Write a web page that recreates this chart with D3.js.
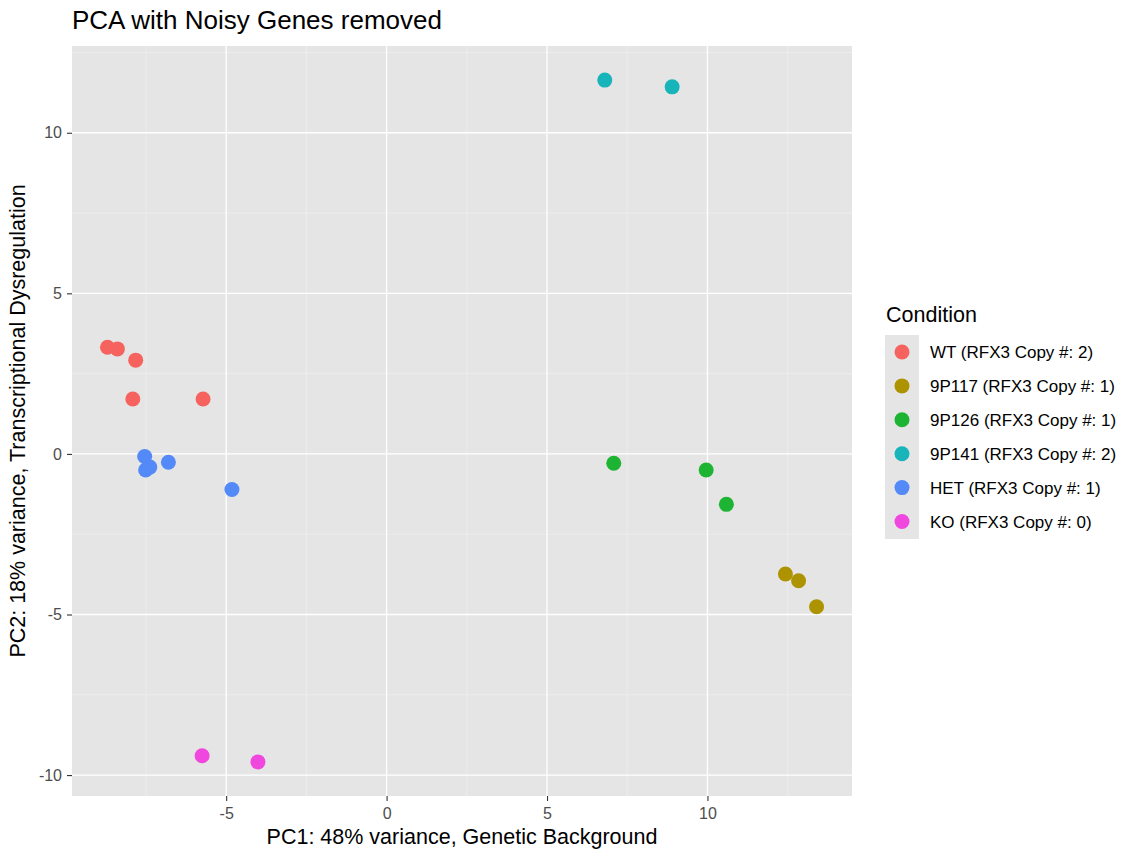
<!DOCTYPE html>
<html>
<head>
<meta charset="utf-8">
<script src="https://cdn.jsdelivr.net/npm/d3@7"></script>
<style>
  body { margin: 0; background: #fff; }
  svg text { font-family: "Liberation Sans", Arial, Helvetica, sans-serif; }
</style>
</head>
<body>
<div id="viz"></div>
<script>
// condition groups, in legend order
var conditions = ["WT (RFX3 Copy #: 2)", "9P117 (RFX3 Copy #: 1)", "9P126 (RFX3 Copy #: 1)",
                  "9P141 (RFX3 Copy #: 2)", "HET (RFX3 Copy #: 1)", "KO (RFX3 Copy #: 0)"];
var colors = ["#F6635E", "#AE9300", "#1DB434", "#17B5B9", "#5489F8", "#F047DE"];

// sample coordinates
var group = [0, 0, 0, 0, 0,  1, 1, 1,  2, 2, 2,  3, 3,  4, 4, 4, 4, 4,  5, 5];
var pc1 = [-8.70, -8.39, -7.82, -7.91, -5.72,  12.43, 12.84, 13.40,  7.08, 9.96, 10.59,
           6.80, 8.90,  -7.54, -7.51, -7.38, -6.80, -4.82,  -5.75, -4.01];
var pc2 = [3.32, 3.27, 2.92, 1.71, 1.71,  -3.74, -3.95, -4.76,  -0.29, -0.50, -1.57,
           11.64, 11.43,  -0.08, -0.50, -0.41, -0.26, -1.11,  -9.40, -9.59];

var xTicks = [-5, 0, 5, 10];
var yTicks = [-10, -5, 0, 5, 10];

var W = 1123, H = 850;
var panel = {left: 72, right: 852, top: 46, bottom: 796};

var svg = d3.select("#viz").append("svg")
    .attr("width", W)
    .attr("height", H);

// ggplot style 5% expansion
function expand(ext) {
  var d = (ext[1] - ext[0]) * 0.05;
  return [ext[0] - d, ext[1] + d];
}
var x = d3.scaleLinear().domain(expand(d3.extent(pc1))).range([panel.left, panel.right]);
var y = d3.scaleLinear().domain(expand(d3.extent(pc2))).range([panel.bottom, panel.top]);

svg.append("rect")
    .attr("x", panel.left).attr("y", panel.top)
    .attr("width", panel.right - panel.left)
    .attr("height", panel.bottom - panel.top)
    .attr("fill", "#E5E5E5");

// minor grid between the major ticks
var xMinor = d3.range(-10, 15, 2.5).filter(function(v) { return v % 5 != 0 && v > x.domain()[0] && v < x.domain()[1]; });
var yMinor = d3.range(-12.5, 15, 2.5).filter(function(v) { return v % 5 != 0 && v > y.domain()[0] && v < y.domain()[1]; });

var grid = svg.append("g");
grid.selectAll(".xmin").data(xMinor).enter().append("line")
    .attr("x1", function(d) { return x(d); }).attr("x2", function(d) { return x(d); })
    .attr("y1", panel.top).attr("y2", panel.bottom)
    .attr("stroke", "#F2F2F2").attr("stroke-width", 0.6);
grid.selectAll(".ymin").data(yMinor).enter().append("line")
    .attr("y1", function(d) { return y(d); }).attr("y2", function(d) { return y(d); })
    .attr("x1", panel.left).attr("x2", panel.right)
    .attr("stroke", "#F2F2F2").attr("stroke-width", 0.6);
grid.selectAll(".xmaj").data(xTicks).enter().append("line")
    .attr("x1", function(d) { return x(d); }).attr("x2", function(d) { return x(d); })
    .attr("y1", panel.top).attr("y2", panel.bottom)
    .attr("stroke", "#fff").attr("stroke-width", 1.3);
grid.selectAll(".ymaj").data(yTicks).enter().append("line")
    .attr("y1", function(d) { return y(d); }).attr("y2", function(d) { return y(d); })
    .attr("x1", panel.left).attr("x2", panel.right)
    .attr("stroke", "#fff").attr("stroke-width", 1.3);

// axes
var xAxis = svg.append("g")
    .attr("transform", "translate(0," + panel.bottom + ")")
    .call(d3.axisBottom(x).tickValues(xTicks).tickSize(5).tickPadding(7));
var yAxis = svg.append("g")
    .attr("transform", "translate(" + panel.left + ",0)")
    .call(d3.axisLeft(y).tickValues(yTicks).tickSize(5).tickPadding(5));
[xAxis, yAxis].forEach(function(a) {
  a.select(".domain").remove();
  a.selectAll(".tick line").attr("stroke", "#333").attr("stroke-width", 1.1);
  a.selectAll(".tick text").attr("fill", "#4D4D4D").style("font-size", "16px")
      .text(function(d) { return d < 0 ? "-" + Math.abs(d) : d; });
});

// points
svg.append("g").selectAll("circle")
    .data(pc1.map(function(v, i) { return {x: v, y: pc2[i], g: group[i]}; }))
  .enter().append("circle")
    .attr("cx", function(d) { return x(d.x); })
    .attr("cy", function(d) { return y(d.y); })
    .attr("r", 7.5)
    .attr("fill", function(d) { return colors[d.g]; });

// titles
svg.append("text")
    .attr("x", 72).attr("y", 29)
    .style("font-size", "26px").attr("fill", "#000")
    .text("PCA with Noisy Genes removed");
svg.append("text")
    .attr("x", (panel.left + panel.right) / 2).attr("y", 844)
    .attr("text-anchor", "middle")
    .style("font-size", "21.5px").attr("fill", "#000")
    .text("PC1: 48% variance, Genetic Background");
svg.append("text")
    .attr("transform", "translate(25," + (panel.top + panel.bottom) / 2 + ") rotate(-90)")
    .attr("text-anchor", "middle")
    .style("font-size", "21.5px").attr("fill", "#000")
    .text("PC2: 18% variance, Transcriptional Dysregulation");

// legend
var legend = svg.append("g").attr("transform", "translate(885,0)");
legend.append("text")
    .attr("x", 1).attr("y", 322)
    .style("font-size", "21.5px").attr("fill", "#000")
    .text("Condition");
legend.append("rect")
    .attr("x", 0).attr("y", 335)
    .attr("width", 34).attr("height", 34 * conditions.length)
    .attr("fill", "#E5E5E5");
var items = legend.selectAll(".key").data(conditions).enter().append("g")
    .attr("transform", function(d, i) { return "translate(0," + (352 + i * 33.9) + ")"; });
items.append("circle")
    .attr("cx", 17).attr("cy", 0).attr("r", 7.5)
    .attr("fill", function(d, i) { return colors[i]; });
items.append("text")
    .attr("x", 45).attr("y", 6)
    .style("font-size", "17px").attr("fill", "#000")
    .text(function(d) { return d; });
</script>
</body>
</html>
